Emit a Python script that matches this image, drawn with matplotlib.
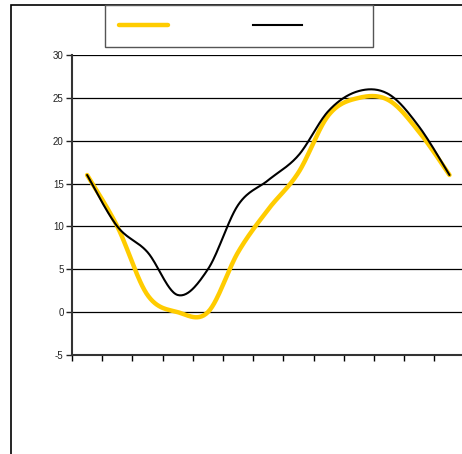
import numpy as np
import matplotlib
matplotlib.use("Agg")
from matplotlib import pyplot as plt
from matplotlib.lines import Line2D
from matplotlib.patches import Rectangle

# Values, one per category (13 categories).
categories = list(range(13))
yellow_values = [16, 10, 2, 0, 0, 7, 12, 16.3, 23, 25, 24.7, 21, 16]
black_values = [16, 10, 7, 2, 5, 12.5, 15.4, 18.3, 23.5, 25.8, 25.4, 21.6, 16]
y_ticks = [-5, 0, 5, 10, 15, 20, 25, 30]


def smooth(xs, ys, n=30):
    """Excel-like smoothed line: Catmull-Rom segments as cubic Beziers."""
    xs, ys = np.asarray(xs, float), np.asarray(ys, float)
    px = np.concatenate([[xs[0]], xs, [xs[-1]]])
    py = np.concatenate([[ys[0]], ys, [ys[-1]]])
    out_x, out_y = [], []
    t = np.linspace(0, 1, n)
    for i in range(1, len(px) - 2):
        p0 = np.array([px[i], py[i]])
        p3 = np.array([px[i + 1], py[i + 1]])
        c1 = p0 + (np.array([px[i + 1], py[i + 1]]) - np.array([px[i - 1], py[i - 1]])) / 6
        c2 = p3 - (np.array([px[i + 2], py[i + 2]]) - np.array([px[i], py[i]])) / 6
        pts = ((1 - t) ** 3)[:, None] * p0 + (3 * (1 - t) ** 2 * t)[:, None] * c1 \
            + (3 * (1 - t) * t ** 2)[:, None] * c2 + (t ** 3)[:, None] * p3
        out_x.extend(pts[:, 0])
        out_y.extend(pts[:, 1])
    return out_x, out_y


W, H = 462, 454
plt.rcParams['font.family'] = ['Liberation Sans', 'DejaVu Sans']
plt.rcParams['axes.unicode_minus'] = False
fig = plt.figure(figsize=(W / 100, H / 100), dpi=100)

# outer chart frame (only left and top edges are visible)
fig.patches.append(Rectangle((11 / W, -0.5), 2, 1.5 - 5 / H, transform=fig.transFigure,
                             fill=False, edgecolor='black', linewidth=1.2))

left, right = 72 / W, 464.6 / W
bottom, top = 1 - 355 / H, 1 - 55 / H
ax = fig.add_axes([left, bottom, right - left, top - bottom])

x = [c + 0.5 for c in categories]
sx, sy = smooth(x, yellow_values)
ax.plot(sx, sy, color='#FFCC00', linewidth=3.2, solid_capstyle='round', zorder=3)
bx, by = smooth(x, black_values)
ax.plot(bx, by, color='black', linewidth=1.5, solid_capstyle='round', zorder=4)

ax.set_xlim(0, 13)
ax.set_ylim(-5, 30)
ax.set_yticks(y_ticks)
ax.set_xticks(range(14))
ax.set_xticklabels([])
ax.yaxis.grid(True, color='black', linewidth=0.9)
ax.set_axisbelow(True)
ax.tick_params(axis='y', direction='out', length=4, width=1, labelsize=7, pad=2, colors='#222222')
ax.tick_params(axis='x', direction='out', length=4, width=1)
for s in ('top', 'right'):
    ax.spines[s].set_visible(False)
ax.spines['left'].set_linewidth(1.5)
ax.spines['left'].set_color('#333333')
ax.spines['bottom'].set_linewidth(1.5)
ax.spines['bottom'].set_color('#333333')

# legend without text, as in the reference
handles = [Line2D([], [], color='#FFCC00', linewidth=3.2, solid_capstyle='round'),
           Line2D([], [], color='black', linewidth=1.5)]
leg = fig.legend(handles, [' ' * 11, ' ' * 12], loc='upper left',
                 bbox_to_anchor=(105 / W, 1 - 5 / H), bbox_transform=fig.transFigure,
                 ncol=2, fontsize=10, handlelength=3.5, handletextpad=0.8,
                 columnspacing=2.3, borderpad=1.0, borderaxespad=0,
                 fancybox=False, framealpha=1)
leg.get_frame().set_edgecolor('#555555')
leg.get_frame().set_linewidth(1.0)

fig.savefig('out.png', dpi=100)
